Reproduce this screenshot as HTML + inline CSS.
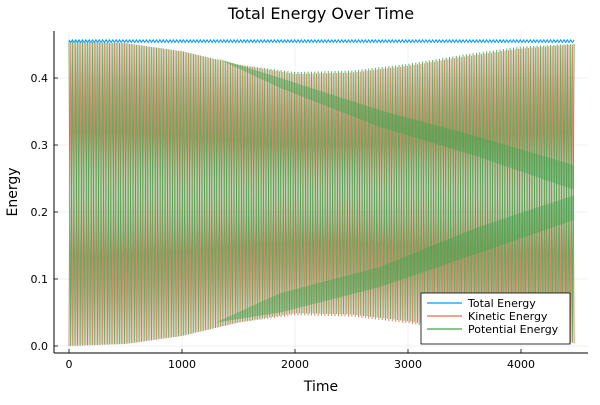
<!DOCTYPE html>
<html><head><meta charset="utf-8"><style>
body{margin:0;background:#fff}
svg{font-family:"DejaVu Sans","Liberation Sans",sans-serif}
</style></head><body>
<svg id="chart" width="600" height="400">
<text x="321" y="19" font-size="16" text-anchor="middle">Total Energy Over Time</text>
<g id="grid"></g>
<g id="series"></g>
<g id="axes"></g>
<text x="321" y="391" font-size="14" text-anchor="middle">Time</text>
<text transform="translate(17,192) rotate(-90)" font-size="14" text-anchor="middle">Energy</text>
<g>
<rect x="421" y="293" width="149" height="51" fill="#fff" stroke="#000" stroke-width="0.8"/>
<line x1="427" x2="462" y1="303" y2="303" stroke="#009af9" stroke-width="1.2"/>
<text x="468" y="307" font-size="11">Total Energy</text>
<line x1="427" x2="462" y1="316" y2="316" stroke="#e26f46" stroke-width="1.2"/>
<text x="468" y="320" font-size="11">Kinetic Energy</text>
<line x1="427" x2="462" y1="329" y2="329" stroke="#3da44d" stroke-width="1.2"/>
<text x="468" y="333" font-size="11">Potential Energy</text>
</g>
</svg>
<script>
const envTimes = [0,500,1000,1500,2000,2500,3000,3500,4000,4470];
const kineticUpper = [0.455,0.452,0.44,0.42,0.406,0.408,0.418,0.432,0.444,0.45];
const kineticLower = [0.0,0.003,0.015,0.035,0.046,0.044,0.034,0.02,0.008,0.004];
const totalEnergy = 0.455;
const halfCycles = 300;
const bandTimes = [1300,1870,2750,3630,4470];
const upperBandTop = [0.43,0.40,0.352,0.312,0.27];
const upperBandBottom = [0.43,0.385,0.327,0.282,0.233];
const lowerBandTop = [0.035,0.079,0.118,0.178,0.225];
const lowerBandBottom = [0.035,0.05,0.088,0.139,0.188];
const xTicks = [0,1000,2000,3000,4000];
const yTicks = [0.0,0.1,0.2,0.3,0.4];
const yTickLabels = ["0.0","0.1","0.2","0.3","0.4"];

const ns="http://www.w3.org/2000/svg";
const L=54,R=588,T=31,B=353;
const xS=t=>69+(t-0)*(521-69)/4000;
const yS=v=>346-v*(346-78)/0.4;
function interp(arr,t){for(let i=0;i<envTimes.length-1;i++){if(t<=envTimes[i+1]){const f=(t-envTimes[i])/(envTimes[i+1]-envTimes[i]);return arr[i]+f*(arr[i+1]-arr[i]);}}return arr[arr.length-1];}
function mk(tag,attrs,parent){const e=document.createElementNS(ns,tag);for(const k in attrs)e.setAttribute(k,attrs[k]);parent.appendChild(e);return e;}
const grid=document.getElementById('grid'),axes=document.getElementById('axes'),ser=document.getElementById('series');
xTicks.forEach(t=>{
 const g=mk('line',{x1:xS(t),x2:xS(t),y1:T,y2:B,stroke:'#000','stroke-opacity':0.1,'stroke-width':0.5},grid);
 
 mk('line',{x1:xS(t),x2:xS(t),y1:B,y2:B-4,stroke:'#000','stroke-width':0.8},axes);
 const tx=mk('text',{x:xS(t),y:B+15,'font-size':11,'text-anchor':'middle'},axes);tx.textContent=t;
 
});
yTicks.forEach((v,i)=>{
 const g=mk('line',{x1:L,x2:R,y1:yS(v),y2:yS(v),stroke:'#000','stroke-opacity':0.1,'stroke-width':0.5},grid);
 
 mk('line',{x1:L,x2:L+4,y1:yS(v),y2:yS(v),stroke:'#000','stroke-width':0.8},axes);
 const tx=mk('text',{x:L-6,y:yS(v)+4,'font-size':11,'text-anchor':'end'},axes);tx.textContent=yTickLabels[i];
 
});
mk('line',{x1:L,x2:R,y1:B,y2:B,stroke:'#000','stroke-width':1},axes);
mk('line',{x1:L,x2:L,y1:T,y2:B,stroke:'#000','stroke-width':1},axes);
const tEnd=envTimes[envTimes.length-1];
let kp=[],pp=[],tp=[];
for(let i=0;i<=halfCycles;i++){
 const t=tEnd*i/halfCycles;
 const up=interp(kineticUpper,t),lo=interp(kineticLower,t);
 const k=(i%2===0)?lo:up;
 kp.push(xS(t).toFixed(2)+','+yS(k).toFixed(2));
 pp.push(xS(t).toFixed(2)+','+yS(totalEnergy-k).toFixed(2));
 tp.push(xS(t).toFixed(2)+','+yS(totalEnergy+(i%2?-0.002:0.002)).toFixed(2));
}
const k=mk('polyline',{points:kp.join(' '),fill:'none',stroke:'#e26f46','stroke-width':1,'stroke-opacity':0.85},ser);

const p=mk('polyline',{points:pp.join(' '),fill:'none',stroke:'#3da44d','stroke-width':1,'stroke-opacity':0.85},ser);

function band(top,bot,name){
 const pts=[];
 for(let i=0;i<bandTimes.length;i++)pts.push(xS(bandTimes[i])+','+yS(top[i]));
 for(let i=bandTimes.length-1;i>=0;i--)pts.push(xS(bandTimes[i])+','+yS(bot[i]));
 const b=mk('polygon',{points:pts.join(' '),fill:'#3da44d','fill-opacity':0.45},ser);
 
}
band(upperBandTop,upperBandBottom,'potential-upper-band');
band(lowerBandTop,lowerBandBottom,'potential-lower-band');
const tl=mk('polyline',{points:tp.join(' '),fill:'none',stroke:'#009af9','stroke-width':1},ser);

</script>
</body></html>
